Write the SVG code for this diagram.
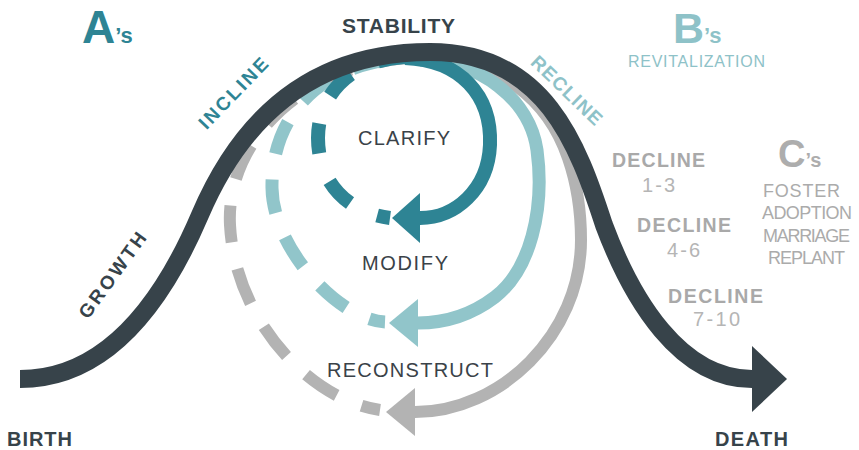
<svg xmlns="http://www.w3.org/2000/svg" width="859" height="450" viewBox="0 0 859 450">
<style>
.t{font-family:"Liberation Sans",Arial,sans-serif}
.b{font-weight:bold}
.dk{fill:#37434a}
.tl{fill:#2e8494}
.lt{fill:#8ec2c8}
.gr{fill:#adadad}
.loop{fill:none;stroke-linecap:butt}
.s-tl{stroke:#2e8494;stroke-width:14}
.s-lt{stroke:#91c5ca;stroke-width:13}
.s-gr{stroke:#b3b3b3;stroke-width:12}
.mid{font-size:20px;fill:#3a4248}
.dec{font-size:19.5px;font-weight:bold;fill:#a9a9a9}
.num{font-size:20px;fill:#b5b5b5}
.cs{font-size:18px;fill:#ababab}
</style>
<defs>
<marker id="ah-tl" markerUnits="userSpaceOnUse" markerWidth="30" markerHeight="54" viewBox="0 -27 30 54" refX="0" refY="0" orient="auto"><path d="M0,-25 L28,0 L0,25 Z" fill="#2e8494"/></marker>
<marker id="ah-lt" markerUnits="userSpaceOnUse" markerWidth="31" markerHeight="52" viewBox="0 -26 31 52" refX="0" refY="0" orient="auto"><path d="M0,-24 L29,0 L0,24 Z" fill="#91c5ca"/></marker>
<marker id="ah-gr" markerUnits="userSpaceOnUse" markerWidth="31" markerHeight="52" viewBox="0 -26 31 52" refX="0" refY="0" orient="auto"><path d="M0,-24 L29,0 L0,24 Z" fill="#b3b3b3"/></marker>
<marker id="ah-dk" markerUnits="userSpaceOnUse" markerWidth="37" markerHeight="70" viewBox="0 -35 37 70" refX="0" refY="0" orient="auto"><path d="M0,-33 L35,0 L0,33 Z" fill="#37434a"/></marker>
</defs>
<rect width="859" height="450" fill="#ffffff"/>
<g id="connectors">
  <path class="loop s-gr" d="M430,60 C500,60 548,100 568,158 C576,181 581,205 581,240 C581,335 500,412 415,412" marker-end="url(#ah-gr)"/>
  <path class="loop s-gr" stroke-dasharray="37 27" stroke-dashoffset="18" d="M380,410 C310,400 235,320 230,225 C226,150 290,70 405,58"/>
  <path class="loop s-lt" d="M420,60 C480,60 530,100 537,150 C545,210 530,270 495,297 C470,316 445,323 418,323" marker-end="url(#ah-lt)"/>
  <path class="loop s-lt" stroke-dasharray="34 26" stroke-dashoffset="18" d="M385,322 C340,320 273,250 272,188 C271,130 305,65 405,58"/>
  <path class="loop s-tl" d="M405,58 C460,60 492,95 490,145 C488,190 455,218 420,218" marker-end="url(#ah-tl)"/>
  <path class="loop s-tl" stroke-dasharray="30 30" stroke-dashoffset="17" d="M390,218 C345,212 318,180 318,138 C318,95 350,60 405,57"/>
  <path id="main-curve" fill="none" stroke="#37434a" stroke-width="18" d="M20,379 C110,379 165,297 200,215 C235,133 300,52 430,52 C545,52 578,145 604,225 C632,300 680,379 752,379" marker-end="url(#ah-dk)"/>
</g>
<g id="label-as"><text class="t b tl" x="82" y="43"><tspan font-size="46">A</tspan><tspan font-size="22">’s</tspan></text></g>
<g id="label-stability"><text class="t b dk" x="342" y="33" font-size="21" textLength="113" lengthAdjust="spacing">STABILITY</text></g>
<g id="label-bs"><text class="t b lt" x="673" y="43"><tspan font-size="43">B</tspan><tspan font-size="22">’s</tspan></text></g>
<g id="label-revitalization"><text class="t lt" x="628" y="67" font-size="16" textLength="137" lengthAdjust="spacing">REVITALIZATION</text></g>
<g id="label-incline"><text class="t b tl" transform="translate(233,93) rotate(-46)" x="0" y="7" font-size="19" text-anchor="middle" textLength="91" lengthAdjust="spacing">INCLINE</text></g>
<g id="label-recline"><text class="t b lt" transform="translate(567,90) rotate(44)" x="0" y="7" font-size="19" text-anchor="middle" textLength="91" lengthAdjust="spacing">RECLINE</text></g>
<g id="label-growth"><text class="t b dk" transform="translate(112,275) rotate(-54)" x="0" y="7" font-size="19" text-anchor="middle" textLength="101" lengthAdjust="spacing">GROWTH</text></g>
<g id="node-clarify"><text class="t mid" x="358" y="145" textLength="92" lengthAdjust="spacing">CLARIFY</text></g>
<g id="node-modify"><text class="t mid" x="362" y="270" textLength="86" lengthAdjust="spacing">MODIFY</text></g>
<g id="node-reconstruct"><text class="t mid" x="327" y="377" textLength="166" lengthAdjust="spacing">RECONSTRUCT</text></g>
<g id="label-birth"><text class="t b dk" x="7" y="446" font-size="20" textLength="65" lengthAdjust="spacing">BIRTH</text></g>
<g id="label-death"><text class="t b dk" x="715" y="446" font-size="20" textLength="73" lengthAdjust="spacing">DEATH</text></g>
<g id="label-decline-1-3">
  <text class="t dec" x="612" y="167" textLength="93" lengthAdjust="spacing">DECLINE</text>
  <text class="t num" x="642" y="192" textLength="33" lengthAdjust="spacing">1-3</text>
</g>
<g id="label-decline-4-6">
  <text class="t dec" x="637" y="232" textLength="94" lengthAdjust="spacing">DECLINE</text>
  <text class="t num" x="667" y="257" textLength="33" lengthAdjust="spacing">4-6</text>
</g>
<g id="label-decline-7-10">
  <text class="t dec" x="668" y="303" textLength="95" lengthAdjust="spacing">DECLINE</text>
  <text class="t num" x="693" y="326" textLength="47" lengthAdjust="spacing">7-10</text>
</g>
<g id="label-cs">
  <text class="t b gr" x="778" y="167"><tspan font-size="38">C</tspan><tspan font-size="20">’s</tspan></text>
  <text class="t cs" x="763" y="197" textLength="77" lengthAdjust="spacing">FOSTER</text>
  <text class="t cs" x="762" y="219" textLength="90" lengthAdjust="spacing">ADOPTION</text>
  <text class="t cs" x="763" y="242" textLength="87" lengthAdjust="spacing">MARRIAGE</text>
  <text class="t cs" x="768" y="264" textLength="77" lengthAdjust="spacing">REPLANT</text>
</g>
</svg>
